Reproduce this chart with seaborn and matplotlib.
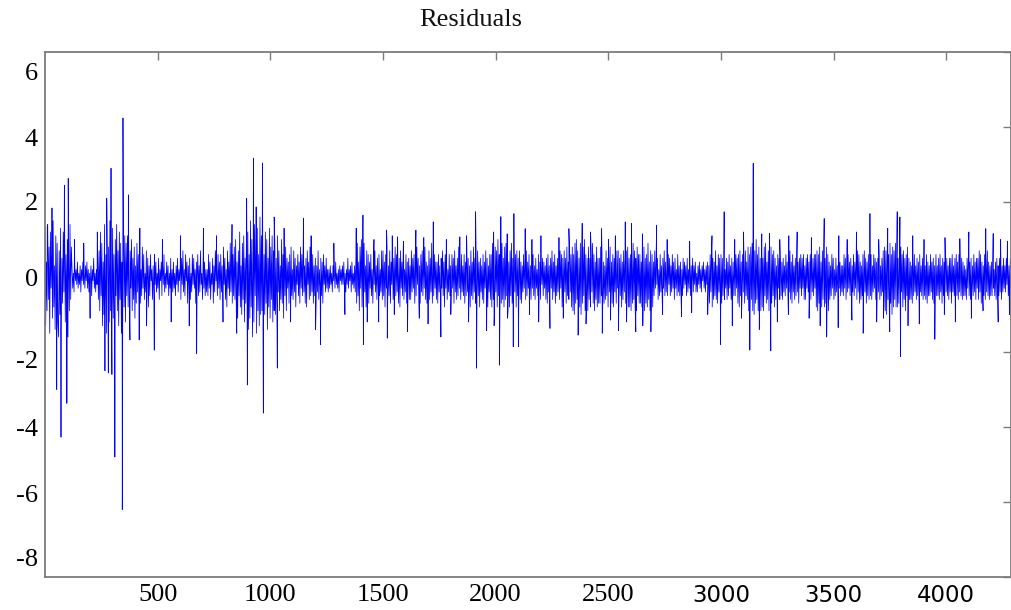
import numpy as np
import pandas as pd
import matplotlib
matplotlib.use("Agg")
import matplotlib.pyplot as plt
import seaborn as sns
from matplotlib.transforms import ScaledTranslation

# ---------------- data ----------------
title_text = "Residuals"
base_step = 3  # spacing (in observation index) of the hand-read base samples
base_vals = [
    1.0,-1.3,0.4,-0.9,1.4,-0.6,0.8,-1.5,1.2,-0.3,0.6,-1.1,1.5,-0.8,0.3,-1.4,1.1,-0.5,0.9,-1.2,
    -1.6,0.7,-1.0,1.3,-1.4,0.5,-0.7,1.2,-0.4,1.5,-1.2,0.6,-0.3,1.0,-1.6,0.4,-0.9,1.4,-0.6,0.8,
    0.2,-0.3,0.1,-0.4,0.3,-0.1,0.2,-0.2,0.4,-0.3,0.1,-0.2,0.3,-0.4,0.2,-0.1,0.4,-0.2,0.1,-0.3,
    0.3,-0.1,0.4,-0.3,0.2,-0.4,0.1,-0.2,0.3,-0.5,0.2,-0.1,0.5,-0.3,0.1,-0.4,0.2,-0.2,0.5,-0.6,
    0.7,-0.9,1.2,-0.5,0.9,-1.3,0.4,-1.0,1.4,-0.7,0.6,-1.5,1.1,-0.4,0.8,-1.2,1.5,-0.9,0.5,-1.6,
    1.3,-1.1,0.6,-1.7,1.0,-0.5,1.4,-0.9,0.7,-1.3,1.2,-0.6,0.9,-1.5,0.4,-1.0,1.3,-0.8,1.1,-1.2,
    0.9,-0.5,1.1,-0.8,0.4,-1.0,0.7,-0.3,1.0,-0.9,0.5,-0.6,0.8,-1.1,0.3,-0.7,0.9,-0.4,0.6,-0.8,
    0.4,-0.7,0.2,-0.5,0.8,-0.3,0.6,-0.6,0.1,-0.4,0.7,-0.2,0.5,-0.8,0.3,-0.5,0.6,-0.1,0.2,-0.6,
    0.3,-0.5,0.6,-0.2,0.4,-0.4,0.1,-0.3,0.5,-0.6,0.2,-0.1,0.4,-0.5,0.3,-0.2,0.6,-0.4,0.1,-0.3,
    0.4,-0.2,0.3,-0.5,0.1,-0.3,0.5,-0.1,0.2,-0.4,0.4,-0.3,0.1,-0.5,0.3,-0.2,0.5,-0.4,0.2,-0.1,
    0.3,-0.6,0.5,-0.2,0.7,-0.4,0.2,-0.5,0.6,-0.1,0.4,-0.7,0.3,-0.3,0.5,-0.6,0.1,-0.4,0.6,-0.2,
    0.5,-0.3,0.2,-0.7,0.4,-0.1,0.6,-0.5,0.3,-0.4,0.7,-0.2,0.1,-0.6,0.5,-0.3,0.4,-0.5,0.2,-0.4,
    0.2,-0.5,0.6,-0.3,0.4,-0.6,0.1,-0.2,0.5,-0.7,0.3,-0.4,0.7,-0.1,0.2,-0.5,0.6,-0.3,0.4,-0.6,
    0.6,-0.4,0.3,-0.7,0.8,-0.2,0.5,-0.6,0.2,-0.8,0.7,-0.3,0.4,-0.5,0.9,-0.4,0.3,-0.7,0.6,-0.5,
    0.8,-0.6,1.0,-0.9,0.4,-1.1,0.7,-0.5,1.2,-0.8,0.3,-1.0,0.9,-0.6,1.1,-1.2,0.5,-0.7,1.0,-0.9,
    1.2,-1.4,0.6,-1.1,1.5,-0.8,1.0,-1.6,0.7,-1.2,1.4,-0.5,0.9,-1.5,1.3,-0.9,0.6,-1.3,1.6,-1.0,
    1.1,-0.9,1.4,-1.3,0.6,-1.0,1.2,-0.7,1.0,-1.4,0.5,-0.8,1.3,-1.1,0.8,-0.6,1.1,-1.2,0.7,-0.9,
    0.9,-1.0,0.5,-0.8,1.1,-0.4,0.7,-0.9,0.3,-0.6,1.0,-0.7,0.6,-1.1,0.4,-0.5,0.8,-0.9,0.5,-0.3,
    0.4,-0.7,0.6,-0.3,0.8,-0.5,0.2,-0.6,0.7,-0.4,0.5,-0.8,0.3,-0.2,0.6,-0.5,0.4,-0.7,0.8,-0.3,
    0.6,-0.5,0.9,-0.4,0.3,-0.7,0.5,-0.8,0.7,-0.2,0.4,-0.6,0.8,-0.5,0.2,-0.4,0.6,-0.7,0.3,-0.5,
    0.5,-0.8,0.3,-0.4,0.7,-0.6,0.2,-0.3,0.5,-0.5,0.4,-0.7,0.6,-0.2,0.3,-0.4,0.5,-0.3,0.2,-0.4,
    0.2,-0.3,0.3,-0.2,0.1,-0.4,0.3,-0.1,0.2,-0.3,0.4,-0.2,0.1,-0.3,0.2,-0.4,0.3,-0.1,0.2,-0.2,
    0.3,-0.2,0.4,-0.3,0.1,-0.4,0.2,-0.2,0.5,-0.3,0.2,-0.1,0.3,-0.4,0.4,-0.2,0.1,-0.3,0.3,-0.4,
    0.6,-0.7,0.9,-0.5,0.4,-0.9,0.8,-0.3,1.0,-0.8,0.5,-0.6,0.9,-0.4,0.3,-0.8,0.7,-0.5,0.6,-0.7,
    0.4,-0.3,0.6,-0.5,0.2,-0.7,0.5,-0.2,0.7,-0.4,0.3,-0.6,0.5,-0.3,0.6,-0.5,0.2,-0.4,0.7,-0.6,
    0.7,-0.5,0.4,-0.8,0.6,-0.3,0.8,-0.6,0.3,-0.5,0.7,-0.7,0.4,-0.2,0.6,-0.6,0.5,-0.4,0.8,-0.5,
    0.6,-0.4,0.3,-0.7,0.5,-0.8,0.7,-0.3,0.4,-0.5,0.8,-0.6,0.2,-0.4,0.6,-0.7,0.4,-0.3,0.5,-0.6,
    0.3,-0.6,0.7,-0.4,0.5,-0.3,0.6,-0.7,0.4,-0.5,0.8,-0.2,0.5,-0.6,0.3,-0.7,0.6,-0.4,0.7,-0.5,
    0.5,-0.3,0.8,-0.6,0.4,-0.7,0.3,-0.5,0.7,-0.6,0.5,-0.4,0.9,-0.7,0.3,-0.5,0.6,-0.3,0.4,-0.6,
    0.4,-0.7,0.6,-0.4,0.3,-0.6,0.5,-0.3,0.7,-0.5,0.4,-0.8,0.6,-0.3,0.5,-0.6,0.2,-0.4,0.6,-0.5,
    0.3,-0.5,0.6,-0.3,0.5,-0.7,0.7,-0.4,0.3,-0.6,0.5,-0.5,0.8,-0.3,0.4,-0.6,0.6,-0.4,0.3,-0.5,
    0.6,-0.7,0.4,-0.5,0.8,-0.4,0.5,-0.7,0.3,-0.8,0.7,-0.5,0.4,-0.6,0.8,-0.4,0.5,-0.7,0.3,-0.6,
    0.7,-0.5,0.4,-0.8,0.5,-0.4,0.3,-0.6,0.6,-0.7,0.4,-0.3,0.7,-0.5,0.5,-0.8,0.3,-0.4,0.6,-0.6,
    0.6,-0.8,0.9,-0.6,0.5,-0.9,0.8,-0.4,0.7,-0.8,1.0,-0.5,0.6,-0.9,0.4,-0.7,0.9,-0.6,0.5,-0.8,
    0.8,-0.6,0.9,-0.5,0.6,-0.9,0.4,-0.8,0.7,-0.5,0.9,-0.7,0.5,-1.0,0.8,-0.4,0.6,-0.8,0.7,-0.5,
    0.5,-0.4,0.7,-0.6,0.4,-0.7,0.3,-0.4,0.6,-0.3,0.5,-0.6,0.7,-0.5,0.4,-0.3,0.6,-0.5,0.3,-0.6,
    0.4,-0.3,0.6,-0.5,0.3,-0.6,0.5,-0.3,0.2,-0.5,0.6,-0.4,0.4,-0.6,0.3,-0.2,0.5,-0.5,0.4,-0.3,
    0.3,-0.6,0.5,-0.7,0.6,-0.4,0.3,-0.5,0.5,-0.3,0.7,-0.6,0.4,-0.4,0.6,-0.7,0.3,-0.5,0.5,-0.4,
    0.4,-0.6,0.7,-0.3,0.6,-0.8,0.5,-0.5,0.7,-0.4,0.5,-0.7,0.8,-0.5,0.4,-0.6,0.7,-0.4,0.6,-0.8,
    0.8,-0.9,0.6,-1.0,0.9,-0.7,1.0,-0.6,0.7,-0.9,0.5,-0.8,0.9,-1.0,0.6,-0.7,0.8,-0.5,1.0,-0.9,
    0.6,-0.8,0.5,-0.9,0.8,-0.6,0.5,-0.8,0.7,-0.4,0.9,-0.7,0.6,-0.9,0.4,-0.6,0.8,-0.8,0.5,-0.7,
    0.5,-0.7,0.8,-0.5,0.6,-0.8,0.4,-0.7,0.3,-0.6,0.7,-0.5,0.5,-0.8,0.6,-0.4,0.8,-0.6,0.4,-0.7,
    0.6,-0.8,0.5,-0.4,0.4,-0.7,0.7,-0.3,0.7,-0.6,0.5,-0.5,0.6,-0.8,0.4,-0.6,0.7,-0.4,0.5,-0.7,
    0.7,-0.5,0.8,-0.8,0.5,-0.8,0.6,-0.9,0.4,-0.7,0.9,-0.6,0.7,-0.8,0.5,-0.9,0.8,-0.5,0.6,-0.7,
    0.6,-0.7,0.4,-0.8,0.7,-0.5,0.8,-0.9,0.5,-0.7,0.6,-0.8,0.9,-0.6,0.4,-0.9,0.7,-0.5,0.6,-0.8,
    0.4,-0.5,0.7,-0.3,0.5,-0.2,0.5,-0.6,0.2,-0.5,0.6,-0.4,0.3,-0.6,0.5,-0.3,0.7,-0.5,0.4,-0.4,
    0.3,-0.5,0.6,-0.2,0.5,-0.5,0.3,-0.4,0.6,-0.3,0.4,-0.6,0.5,-0.3,0.2,-0.5,0.6,-0.4,0.3,-0.5,
    0.4,-0.6,0.2,-0.5,0.5,-0.3,0.4,-0.2,0.3,-0.5,0.5,-0.4,0.2,-0.3,0.4,-0.5,0.3,-0.2,0.5,-0.4,
    0.3,-0.2,0.4,-0.4,0.1,-0.4,0.3,-0.2,0.4,-0.3,0.2,-0.4,0.3,-0.1,0.4,-0.3,0.2,-0.4,0.3,-0.2,
    0.4,-0.6,0.3,-0.7,0.6,-0.4,0.7,-0.8,0.5,-0.6,0.4,-0.5,0.7,-0.6,0.3,-0.7,0.6,-0.4,0.5,-0.6,
    0.6,-0.7,0.5,-0.5,0.3,-0.6,0.2,-0.3,0.5,-0.6,0.4,-0.5,0.6,-0.3,0.3,-0.6,0.5,-0.4,0.4,-0.5,
    0.3,-0.5,0.6,-0.3,0.5,-0.7,0.6,-0.8,0.7,-0.5,0.4,-0.6,0.6,-0.4,0.5,-0.7,0.7,-0.5,0.4,-0.6,
    0.8,-0.9,0.6,-1.0,0.8,-0.6,0.9,-0.9,0.5,-1.0,0.7,-0.7,1.0,-0.6,0.6,-0.9,0.8,-0.8,0.5,-0.9,
    0.7,-0.8,0.5,-0.9,0.8,-0.5,0.9,-0.7,0.4,-0.6,0.7,-0.9,0.5,-0.6,0.8,-0.7,0.6,-0.5,0.7,-0.8,
    0.5,-0.6,0.3,-0.5,0.6,-0.3,0.5,-0.6,0.2,-0.5,0.4,-0.6,0.5,-0.4,0.3,-0.5,0.6,-0.3,0.4,-0.5,
    0.6,-0.4,0.7,-0.6,0.4,-0.7,0.6,-0.4,0.3,-0.6,0.5,-0.5,0.7,-0.4,0.4,-0.7,0.5,-0.3,0.6,-0.5,
    0.5,-0.3,0.6,-0.6,0.3,-0.6,0.5,-0.3,0.6,-0.4,0.4,-0.5,0.6,-0.6,0.3,-0.4,0.5,-0.5,0.6,-0.3,
    0.6,-0.8,0.7,-0.9,0.6,-0.7,0.8,-0.5,0.4,-0.8,0.7,-0.6,0.9,-0.8,0.5,-0.7,0.8,-0.6,0.6,-0.9,
    0.4,-0.6,0.3,-0.5,0.6,-0.3,0.5,-0.6,0.2,-0.5,0.5,-0.4,0.3,-0.6,0.6,-0.3,0.4,-0.5,0.3,-0.4,
    0.3,-0.5,0.6,-0.3,0.5,-0.6,0.3,-0.4,0.6,-0.3,0.4,-0.5,0.5,-0.6,0.3,-0.4,0.6,-0.5,0.4,-0.3,
    0.5,-0.6,0.7,-0.4,0.6,-0.7,0.4,-0.6,0.3,-0.5,0.6,-0.5,0.7,-0.4,0.5,-0.7,0.4,-0.5,0.6,-0.6,
    0.4,-0.5,0.6,-0.6,0.3,-0.4,0.6,-0.3,0.5,-0.6,0.4,-0.5,0.5,-0.4,0.6,-0.6,0.3,-0.5,0.5,-0.4,
    0.7,-0.8,0.8,-0.9,0.7,-1.0,0.8,-0.6,0.6,-0.9,0.9,-0.7,0.6,-1.0,0.8,-0.8,0.7,-0.6,0.9,-0.8,
    0.8,-0.8,0.5,-0.7,0.4,-0.6,0.8,-0.4,0.6,-0.8,0.7,-0.6,0.5,-0.9,0.6,-0.5,0.8,-0.7,0.5,-0.6,
    0.4,-0.6,0.3,-0.7,0.5,-0.5,0.6,-0.4,0.3,-0.6,0.5,-0.5,0.4,-0.7,0.6,-0.4,0.3,-0.5,0.5,-0.6,
    0.5,-0.5,0.3,-0.6,0.6,-0.7,0.4,-0.5,0.3,-0.5,0.6,-0.4,0.4,-0.6,0.5,-0.7,0.3,-0.4,0.6,-0.5,
    0.3,-0.5,0.5,-0.6,0.6,-0.4,0.3,-0.7,0.5,-0.5,0.4,-0.6,0.6,-0.4,0.5,-0.5,0.3,-0.6,0.5,-0.4,
    0.5,-0.7,0.6,-0.4,0.3,-0.5,0.5,-0.3,0.6,-0.5,0.4,-0.6,0.6,-0.4,0.3,-0.5,0.5,-0.6,0.4,-0.5,
    0.3,-0.5,0.2,-0.6,0.5,-0.3,0.6,-0.5,0.4,-0.6,0.5,-0.4,0.3,-0.5,0.6,-0.4,0.4,-0.6,0.5,-0.3,
    0.5,-0.6,0.7,-0.4,0.6,-0.7,0.4,-0.5,0.3,-0.5,0.6,-0.6,0.5,-0.4,0.7,-0.5,0.4,-0.6,0.3,-0.5,
    0.4,-0.5,0.5,-0.3,0.2,-0.5,0.4,-0.6,0.5,-0.3,0.3,-0.5,0.5,-0.4,0.4,-0.6,0.3,-0.4,0.5,-0.3,
    0.3,-0.4,0.5,-0.2,0.4,-0.5,0.3,-0.4,0.5,-0.3,
]

# large spikes
spike_t = [10, 31, 52, 71, 86, 97, 103, 266, 274, 281, 293, 297, 310, 343, 346,
           370, 377, 418, 485, 673, 703, 895, 898, 925, 937, 965, 969, 1017, 1031,
           1147, 1223, 1411, 1413, 1516, 1519, 1565, 1609, 1646, 1723, 1757, 1841,
           1911, 1915, 1960, 2017, 2023, 2078, 2081, 2101, 2131, 2241, 2325, 2366,
           2384, 2470, 2473, 2545, 2575, 2603, 2622, 2689, 2714, 2825, 2998, 3014,
           3128, 3143, 3215, 3221, 3338, 3458, 3469, 3631, 3661, 3749, 3782, 3794,
           3797, 3949, 4060, 4163, 4175, 4208]
spike_v = [1.34, 1.84, -3.0, -4.27, 2.45, -3.37, 2.63, -2.5, 2.1, -2.56, 2.9, -2.6, -4.8, -6.2, 4.24,
           2.19, -1.68, -1.68, -1.95, -2.04, 1.3, 2.1, -2.88, 3.17, 1.87, 3.04, -3.63, 1.6, -2.43,
           1.57, -1.81, 1.65, -1.8, 1.25, -1.63, 1.07, -1.46, 1.25, 1.47, -1.6, 1.07,
           1.74, -2.43, -1.43, -2.35, 1.61, -1.86, 1.69, -1.86, 1.29, -1.37, 1.29, -1.55,
           1.43, 1.29, -1.5, -1.43, 1.47, 1.43, -1.46, -1.46, 1.38, -1.06, -1.8, 1.74,
           -1.95, 3.03, 1.16, -1.97, 1.2, 1.56, -1.6, -1.5, 1.69, -1.46, 1.74, 1.6,
           -2.12, -1.66, 1.02, -0.9, 1.29, 1.16]

# medium-size excursions standing out of the band
minor_t = [131, 172, 200, 232, 421, 451, 521, 560, 601, 640, 761, 790, 830, 851,
           1061, 1090, 1181, 1201, 1282, 1331, 1381, 1430,
           1460, 1481, 1541, 1550, 1591, 1661, 1681, 1700, 1781, 1801, 1871, 1880,
           1991, 1993, 2051, 2053, 2150, 2161, 2191, 2201, 2281, 2300, 2401, 2421,
           2501, 2510, 2531, 2581, 2651, 2653, 2741, 2761, 2861, 2870,
           2941, 2960, 3050, 3061, 3091, 3100, 3170, 3181, 3250, 3261, 3299, 3301,
           3391, 3401, 3440, 3520, 3523, 3560, 3581, 3601, 3691, 3700, 3721, 3740,
           3830, 3851, 3880, 3901, 3991, 3994, 4040, 4100, 4111, 4230, 4241, 4271, 4280]
minor_v = [1.0, 0.9, -1.1, 1.2, 1.3, -1.3, 1.0, -1.2, 1.1, -1.3, 1.1, -1.2, 1.4, -1.5,
           1.3, -1.2, 1.1, -1.4, 0.9, -1.0, 1.3, -1.2,
           1.0, -1.2, 1.1, -1.0, 0.95, -1.1, 1.05, -1.25, 1.0, -1.0, 1.1, -1.2,
           1.2, -1.3, 1.15, -1.1, -1.0, 1.0, -1.2, 1.1, 1.05, -1.1, -1.25, 1.2,
           1.0, -1.15, 1.1, -1.2, 1.15, -1.3, -1.0, 1.0, 0.95, -0.95,
           -1.0, 1.1, -1.3, 1.0, -1.1, 1.2, -1.4, 1.15, -1.2, 1.0, -1.0, 1.1,
           -1.1, 1.05, -1.3, -1.35, 1.1, 1.0, -1.15, 1.2, -1.2, 1.0, -1.1, 1.3,
           -1.3, 1.1, -1.25, 1.0, -1.0, 1.05, -1.2, 1.2, -1.1, -1.2, 1.0, 0.95, -1.0]

x_ticks = [500, 1000, 1500, 2000, 2500, 3000, 3500, 4000]
y_ticks = [-8, -6, -4, -2, 0, 2, 4, 6]
x_range = [0, 4287]
y_range = [-8, 6]

# ---------------- assemble ----------------
t_all = np.concatenate([np.arange(len(base_vals)) * base_step, np.array(spike_t), np.array(minor_t)])
v_all = np.concatenate([np.array(base_vals, dtype=float), np.array(spike_v, dtype=float),
                        np.array(minor_v, dtype=float)])
order = np.argsort(t_all, kind="stable")
df = pd.DataFrame({"t": t_all[order], "r": v_all[order]})

# ---------------- styling ----------------
sns.set_style("white")
plt.rcParams["font.family"] = ["Liberation Serif", "DejaVu Serif"]
plt.rcParams["path.simplify"] = False

W, H, DPI = 1012, 610, 100
fig = plt.figure(figsize=(W / DPI, H / DPI), dpi=DPI)
ax = fig.add_axes([45 / W, 1 - 577 / H, (1011 - 45) / W, (577 - 52) / H])

sns.lineplot(data=df, x="t", y="r", ax=ax, color="#0000ff", linewidth=0.55,
             estimator=None, sort=True)

ax.set_xlim(*x_range)
ax.set_ylim(*y_range)
ax.set_xlabel("")
ax.set_ylabel("")

spine_col = "#7c7c7c"
for s in ax.spines.values():
    s.set_visible(True)
    s.set_color(spine_col)
    s.set_linewidth(1.3)

ax.set_xticks(x_ticks, labels=[str(v) for v in x_ticks])
ax.set_yticks(y_ticks, labels=[str(v) for v in y_ticks])
ax.tick_params(axis="both", direction="in", length=6, width=1.0, color=spine_col,
               top=True, right=True, labelsize=19, labelcolor="black")
ax.tick_params(axis="y", pad=5)
ax.tick_params(axis="x", pad=5)

for lbl in ax.get_xticklabels():
    if lbl.get_text() in ("3000", "3500", "4000"):
        lbl.set_fontfamily("DejaVu Sans")
        lbl.set_fontsize(16.5)

# small vertical shifts of the y labels as in the reference (pixels, downward)
y_label_shift = {6: 20, 4: 10, 2: 0, 0: 0, -2: 8, -4: 0, -6: -9, -8: -20}
for lbl, val in zip(ax.get_yticklabels(), y_ticks):
    dy = y_label_shift.get(val, 0)
    lbl.set_transform(lbl.get_transform() + ScaledTranslation(0, -dy / DPI, fig.dpi_scale_trans))

fig.text(471 / W, 1 - 20 / H, title_text, ha="center", va="center", fontsize=19,
         family="Liberation Serif", color="#111111")

fig.savefig("out.png", dpi=DPI, facecolor="white")
